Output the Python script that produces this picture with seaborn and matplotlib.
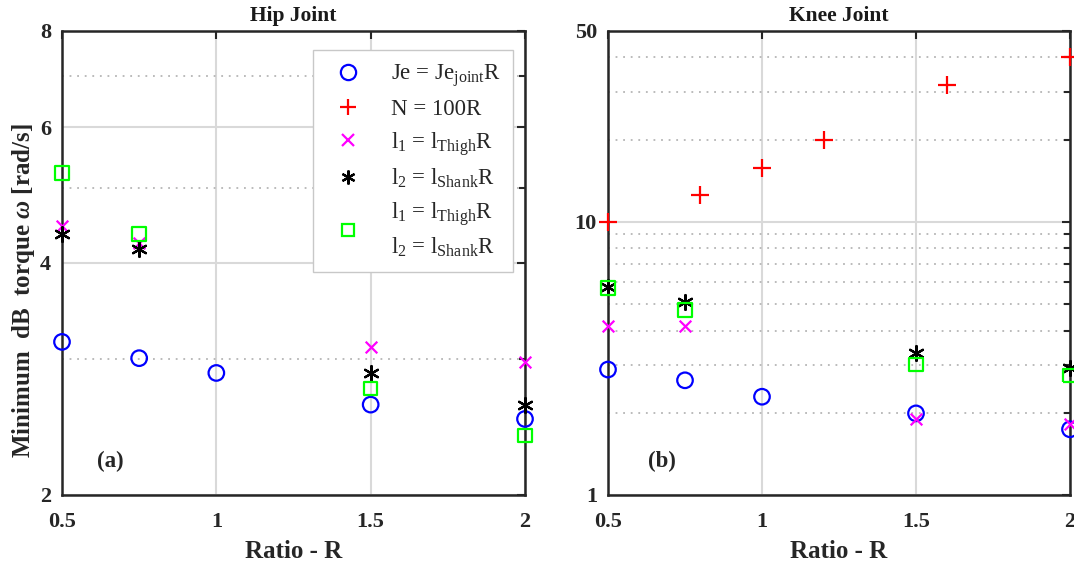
import matplotlib
matplotlib.use("Agg")
import matplotlib.pyplot as plt
import seaborn as sns
import numpy as np
import pandas as pd
from matplotlib.lines import Line2D
from matplotlib.ticker import FixedLocator, FixedFormatter, NullFormatter

# ---------------- data ----------------
ratio = [0.5, 0.75, 1.0, 1.5, 2.0]
ratio_l = [0.5, 0.75, 1.5, 2.0]

hip_je = [3.16, 3.01, 2.88, 2.62, 2.51]
hip_l1 = [4.47, 4.25, 3.11, 2.98]
hip_l2 = [4.36, 4.17, 2.88, 2.62]
hip_l12 = [5.23, 4.36, 2.75, 2.39]

knee_n_ratio = [0.5, 0.8, 1.0, 1.2, 1.6, 2.0]
knee_n = [10.0, 12.5, 15.8, 20.0, 31.6, 40.0]
knee_je = [2.88, 2.63, 2.29, 1.99, 1.74]
knee_l1 = [4.16, 4.16, 1.90, 1.82]
knee_l2 = [5.77, 5.08, 3.32, 2.92]
knee_l12 = [5.74, 4.75, 3.01, 2.74]

x_ticks = [0.5, 1, 1.5, 2]
x_ticklabels = ["0.5", "1", "1.5", "2"]
hip_yticks = [2, 4, 6, 8]
hip_yminor = [3, 5, 7]
knee_yticks = [1, 10, 50]
knee_yminor = [2, 3, 4, 5, 6, 7, 8, 9, 20, 30, 40]

legend_labels = [
    r"Je = Je$_{\mathrm{joint}}$R",
    r"N = 100R",
    r"l$_{1}$ = l$_{\mathrm{Thigh}}$R",
    r"l$_{2}$ = l$_{\mathrm{Shank}}$R",
    r"l$_{1}$ = l$_{\mathrm{Thigh}}$R" + "\n" + r"l$_{2}$ = l$_{\mathrm{Shank}}$R",
]

# ---------------- style ----------------
sns.set_style("white")
plt.rcParams["font.family"] = ["Liberation Serif", "DejaVu Serif"]
plt.rcParams["mathtext.fontset"] = "custom"
plt.rcParams["mathtext.rm"] = "Liberation Serif"
plt.rcParams["mathtext.it"] = "Liberation Serif:italic:bold"
plt.rcParams["mathtext.bf"] = "Liberation Serif:bold"

ASTER = (6, 2, 0)
styles = {
    "je": dict(marker="o", s=125, facecolor="none", edgecolor="#0000ff", linewidth=1.6),
    "n": dict(marker="+", s=180, color="#ff0000", linewidth=1.6),
    "l1": dict(marker="x", s=70, color="#ff00ff", linewidth=1.6),
    "l2": dict(marker=ASTER, s=115, color="black", linewidth=1.6),
    "l12": dict(marker="s", s=95, facecolor="none", edgecolor="#00ff00", linewidth=1.6),
}

fig = plt.figure(figsize=(10.74, 5.65), dpi=100)
W, H = 1074, 565
ax1 = fig.add_axes([62 / W, 1 - 495 / H, 463 / W, 464 / H])
ax2 = fig.add_axes([608 / W, 1 - 495 / H, 462 / W, 464 / H])


def draw(ax, xs, ys, key):
    df = pd.DataFrame({"R": xs, "v": ys})
    sns.scatterplot(data=df, x="R", y="v", ax=ax, clip_on=False, zorder=5,
                    legend=False, **styles[key])


draw(ax1, ratio, hip_je, "je")
draw(ax1, ratio_l, hip_l1, "l1")
draw(ax1, ratio_l, hip_l2, "l2")
draw(ax1, ratio_l, hip_l12, "l12")

draw(ax2, knee_n_ratio, knee_n, "n")
draw(ax2, ratio, knee_je, "je")
draw(ax2, ratio_l, knee_l1, "l1")
draw(ax2, ratio_l, knee_l2, "l2")
draw(ax2, ratio_l, knee_l12, "l12")

for ax, ylim, major, minor in [(ax1, (2, 8), hip_yticks, hip_yminor),
                                (ax2, (1, 50), knee_yticks, knee_yminor)]:
    ax.set_yscale("log")
    ax.set_xlim(0.5, 2)
    ax.set_ylim(*ylim)
    ax.xaxis.set_major_locator(FixedLocator(x_ticks))
    ax.xaxis.set_major_formatter(FixedFormatter(x_ticklabels))
    ax.yaxis.set_major_locator(FixedLocator(major))
    ax.yaxis.set_major_formatter(FixedFormatter([str(v) for v in major]))
    ax.yaxis.set_minor_locator(FixedLocator(minor))
    ax.yaxis.set_minor_formatter(NullFormatter())
    ax.grid(which="major", axis="both", color="#d9d9d9", linewidth=1.5, linestyle="-")
    ax.grid(which="minor", axis="y", color="#b5b5b5", linewidth=1.3, linestyle=(0, (1, 3.2)))
    ax.set_axisbelow(True)
    ax.tick_params(which="both", direction="in", top=True, right=True,
                   width=1.5, color="#262626")
    ax.tick_params(which="major", length=6)
    ax.tick_params(which="minor", length=4)
    ax.tick_params(axis="x", which="both", pad=12)
    ax.tick_params(axis="y", which="both", pad=8)
    for lab in ax.get_xticklabels() + ax.get_yticklabels():
        lab.set_fontsize(16)
        lab.set_fontweight("bold")
        lab.set_color("#262626")
    for sp in ax.spines.values():
        sp.set_linewidth(1.8)
        sp.set_color("#262626")
        sp.set_zorder(4)
    ax.set_xlabel("Ratio - R", fontsize=18, fontweight="bold", color="#262626", labelpad=6)

ax1.set_ylabel(r"Minimum  dB  torque $\omega$ [rad/s]", fontsize=18,
               fontweight="bold", color="#262626")
ax1.yaxis.set_label_coords(-0.054, 0.44)
ax2.set_ylabel("")
ax1.set_title("Hip Joint", fontsize=15.5, fontweight="bold", pad=7, color="#1a1a1a")
ax2.set_title("Knee Joint", fontsize=15.5, fontweight="bold", pad=7, color="#1a1a1a")

ax1.text(0.104, 0.073, "(a)", transform=ax1.transAxes, ha="center", va="center",
         fontsize=16.5, fontweight="bold")
ax2.text(0.117, 0.073, "(b)", transform=ax2.transAxes, ha="center", va="center",
         fontsize=16.5, fontweight="bold")

# legend (proxy handles mirroring the series styles)
handles = [
    Line2D([], [], linestyle="none", marker="o", markersize=11, markerfacecolor="none",
           markeredgecolor="#0000ff", markeredgewidth=1.6),
    Line2D([], [], linestyle="none", marker="+", markersize=12, color="#ff0000",
           markeredgewidth=1.6),
    Line2D([], [], linestyle="none", marker="x", markersize=8, color="#ff00ff",
           markeredgewidth=1.6),
    Line2D([], [], linestyle="none", marker=ASTER, markersize=10, color="black",
           markeredgewidth=1.6),
    Line2D([], [], linestyle="none", marker="s", markersize=9, markerfacecolor="none",
           markeredgecolor="#00ff00", markeredgewidth=1.6),
]
leg = ax1.legend(handles, legend_labels, loc="upper right", bbox_to_anchor=(0.974, 0.959),
                 borderaxespad=0, fontsize=16.5, frameon=True, fancybox=False,
                 edgecolor="#c8c8c8", framealpha=1, handlelength=2.0, handletextpad=0.85,
                 labelspacing=0.42, borderpad=0.55)
leg.get_frame().set_linewidth(1.0)
leg.get_texts()[4].set_linespacing(1.45)
leg.set_zorder(10)

fig.savefig("out.png", dpi=100)
